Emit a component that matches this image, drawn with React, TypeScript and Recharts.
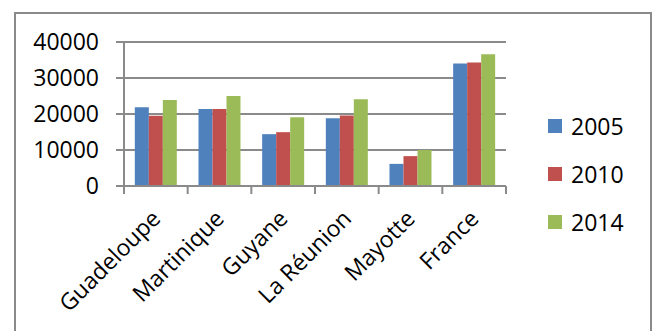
import { Bar, BarChart, CartesianGrid, Legend, XAxis, YAxis } from "recharts";

const regions = ["Guadeloupe", "Martinique", "Guyane", "La Réunion", "Mayotte", "France"];
const values2005 = [21900, 21400, 14400, 18800, 6150, 34000];
const values2010 = [19500, 21400, 14950, 19600, 8300, 34300];
const values2014 = [23900, 25000, 19100, 24100, 10000, 36600];
const yTicks = [0, 10000, 20000, 30000, 40000];

const data = regions.map((region, i) => ({
  region,
  "2005": values2005[i],
  "2010": values2010[i],
  "2014": values2014[i]
}));

const FONT = "'Open Sans', sans-serif";
const AXIS_GRAY = "#8a8a8a";

// label rotated 45°, plus tick marks on the band edges rather than the centre
function RegionTick({ x, y, payload, index }: any) {
  const half = payload.offset || 0;
  const ax = x + 6;
  const ay = y + 34;
  return (
    <g>
      <line x1={x - half} y1={y} x2={x - half} y2={y + 8} stroke={AXIS_GRAY} strokeWidth={2} />
      {index === regions.length - 1 && (
        <line x1={x + half} y1={y} x2={x + half} y2={y + 8} stroke={AXIS_GRAY} strokeWidth={2} />
      )}
      <text
        x={ax}
        y={ay}
        transform={`rotate(-45, ${ax}, ${ay})`}
        textAnchor="end"
        fontFamily={FONT}
        fontSize={23}
        fill="#000"
      >
        {payload.value}
      </text>
    </g>
  );
}

function LegendList({ payload }: any) {
  return (
    <div style={{ fontFamily: FONT, fontSize: 23, color: "#000" }}>
      {(payload || []).map((entry: any) => (
        <div key={entry.value} style={{ display: "flex", alignItems: "center", height: 48 }}>
          <span style={{ width: 14, height: 14, background: entry.color, marginRight: 9 }} />
          <span>{entry.value}</span>
        </div>
      ))}
    </div>
  );
}

export default function App() {
  return (
    <div
      style={{
        position: "absolute",
        left: 0,
        top: 0,
        width: 656,
        height: 331,
        overflow: "hidden",
        background: "#fff"
      }}
    >
      <div
        style={{
          position: "absolute",
          left: 14,
          top: 12,
          width: 638,
          height: 400,
          boxSizing: "border-box",
          border: `2px solid ${AXIS_GRAY}`
        }}
      />
      <div style={{ position: "absolute", left: 0, top: 0 }}>
        <BarChart
          width={656}
          height={331}
          data={data}
          margin={{ top: 42, right: 150, left: 14, bottom: 45 }}
          barCategoryGap="17%"
          barGap={0}
        >
          <CartesianGrid vertical={false} stroke={AXIS_GRAY} strokeWidth={2} />
          <XAxis
            dataKey="region"
            height={100}
            interval={0}
            axisLine={{ stroke: AXIS_GRAY, strokeWidth: 2 }}
            tickLine={false}
            tickSize={0}
            tickMargin={0}
            tick={<RegionTick />}
          />
          <YAxis
            width={110}
            domain={[0, 40000]}
            ticks={yTicks}
            interval={0}
            tickSize={8}
            tickMargin={17}
            axisLine={{ stroke: AXIS_GRAY, strokeWidth: 2 }}
            tickLine={{ stroke: AXIS_GRAY, strokeWidth: 2 }}
            tick={{ fontFamily: FONT, fontSize: 23, fill: "#000" }}
          />
          <Legend
            layout="horizontal"
            verticalAlign="middle"
            align="center"
            wrapperStyle={{ left: 548, top: 102, width: 100 }}
            content={<LegendList />}
          />
          <Bar dataKey="2005" fill="#4F81BD" isAnimationActive={false} />
          <Bar dataKey="2010" fill="#C0504D" isAnimationActive={false} />
          <Bar dataKey="2014" fill="#9BBB59" isAnimationActive={false} />
        </BarChart>
      </div>
    </div>
  );
}
